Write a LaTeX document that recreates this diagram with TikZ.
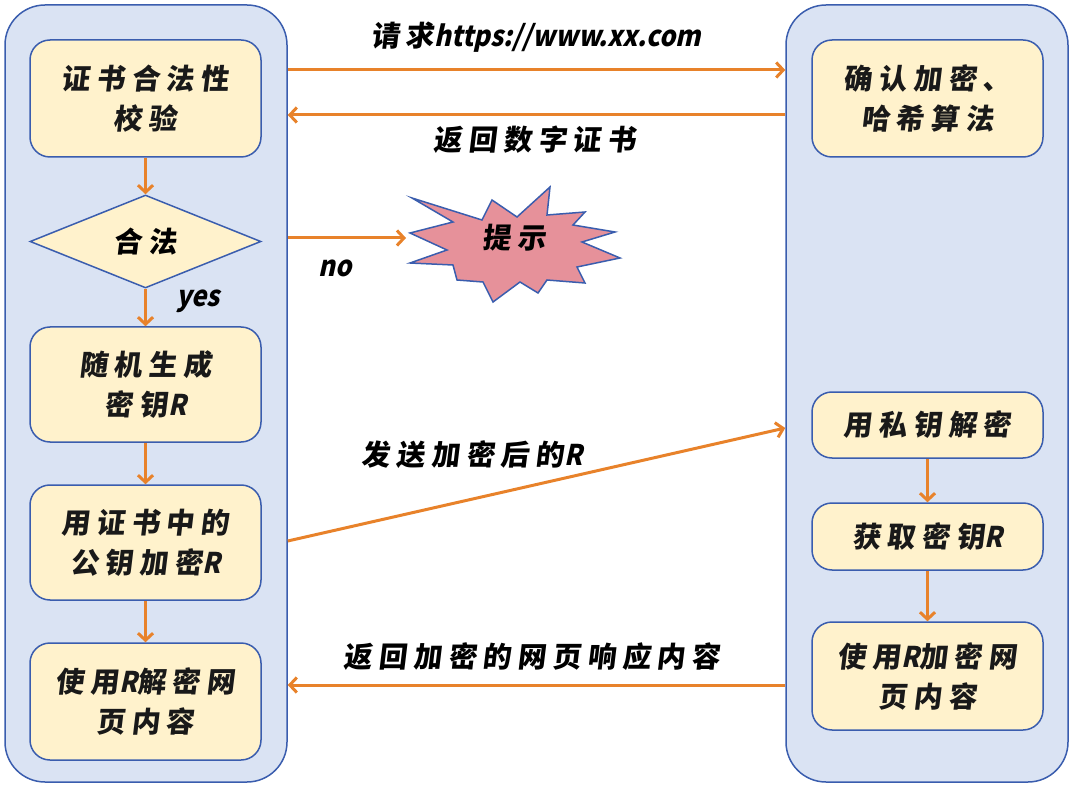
\documentclass[tikz,border=0pt]{standalone}
\usepackage{fontspec}
\usepackage{xcolor}
\usepackage{tikz}
\usetikzlibrary{arrows.meta, positioning, shapes.geometric}

\newfontfamily\cjkfont{Noto Sans CJK SC}[FakeSlant=0.12, LetterSpace=22]
\newfontfamily\latfont{Noto Sans CJK SC}[FakeSlant=0.22, FakeStretch=0.9]
\newcommand{\lat}[1]{{\latfont #1}}

\definecolor{laneblue}{HTML}{DAE3F3}
\definecolor{edgeblue}{HTML}{3A5DAE}
\definecolor{boxyellow}{HTML}{FFF2CC}
\definecolor{flowor}{HTML}{E8822A}
\definecolor{starpink}{HTML}{E6919A}

\tikzset{
  lane/.style={draw=edgeblue, fill=laneblue, line width=1.5pt, rounded corners=40pt,
    minimum width=282pt, minimum height=777pt},
  stepbox/.style={draw=edgeblue, fill=boxyellow, line width=1.5pt, rounded corners=20pt,
    minimum width=231pt, align=center, text=black!90},
  check/.style={diamond, draw=edgeblue, fill=boxyellow, line width=1.5pt, inner sep=0pt,
    minimum width=231pt, minimum height=93pt, aspect=2.48},
  flow/.style={->, draw=flowor, line width=3pt},
  lbl/.style={text=black, inner sep=0pt},
}

\begin{document}
\begin{tikzpicture}[x=1pt, y=-1pt, >={Straight Barb[length=7pt, width=15pt]},
  font=\cjkfont\bfseries\fontsize{28.5}{40}\selectfont]
\useasboundingbox (0,0) rectangle (1074,786);

% Client and server lanes
\node[lane] (client) at (146,393.5) {};
\node[lane] (server) at (927,393.5) {};

% Client side
\node[stepbox, minimum height=117pt] (verify) at (145.5,98.5) {证书合法性\\校验};
\node[check] (legal) at (145.5,241.5) {合法};
\node[stepbox, minimum height=115pt] (genkey) at (145.5,384.5) {随机生成\\密钥\lat{R}};
\node[stepbox, minimum height=115pt] (enckey) at (145.5,542.5) {用证书中的\\公钥加密\lat{R}};
\node[stepbox, minimum height=117pt] (decpage) at (145.5,701.5) {使用\lat{R}解密网\\页内容};

% Server side
\node[stepbox, minimum height=117pt] (algo) at (927.5,98.5) {确认加密、\\哈希算法};
\node[stepbox, minimum height=66pt] (privdec) at (927.5,425) {用私钥解密};
\node[stepbox, minimum height=67pt] (getkey) at (927.5,536.5) {获取密钥\lat{R}};
\node[stepbox, minimum height=108pt] (encpage) at (927.5,676) {使用\lat{R}加密网\\页内容};

% Warning burst
\fill[starpink, draw=edgeblue, line width=1.5pt]
  (412,198) -- (482,220) -- (492,200) -- (517,217) -- (550,187) -- (547,215)
  -- (585,212) -- (573,225) -- (615,232) -- (582,242) -- (620,258) -- (577,267)
  -- (585,283) -- (547,280) -- (538,293) -- (520,282) -- (493,302) -- (483,282)
  -- (457,280) -- (453,265) -- (410,263) -- (447,250) -- (410,233) -- (453,222) -- cycle;
\node[lbl] (tip) at (514,238) {提示};
\coordinate (tipin) at (406,238);

% Client internal flow
\draw[flow] (verify) -- (legal);
\draw[flow] (legal) -- (genkey);
\draw[flow] (genkey) -- (enckey);
\draw[flow] (enckey) -- (decpage);
\draw[flow] (client.east |- tipin) -- (tipin);
\node[lbl] (no) at (335,268) {\lat{no}};
\node[lbl] (yes) at (198,301) {\lat{yes}};

% Server internal flow
\draw[flow] (privdec) -- (getkey);
\draw[flow] (getkey) -- (encpage);

% Messages between client and server
\draw[flow] (client.east |- 0,70) -- (server.west |- 0,70);
\node[lbl] (reqlbl) at (536,37) {请求\lat{https://www.xx.com}};
\draw[flow] (server.west |- 0,115) -- (client.east |- 0,115);
\node[lbl] (certlbl) at (535,140) {返回数字证书};
\draw[flow] (client.east |- 0,541) -- (server.west |- 0,428);
\node[lbl] (sendlbl) at (472,455) {发送加密后的\lat{R}};
\draw[flow] (server.west |- 0,685) -- (client.east |- 0,685);
\node[lbl] (resplbl) at (532,657) {返回加密的网页响应内容};

\end{tikzpicture}
\end{document}
